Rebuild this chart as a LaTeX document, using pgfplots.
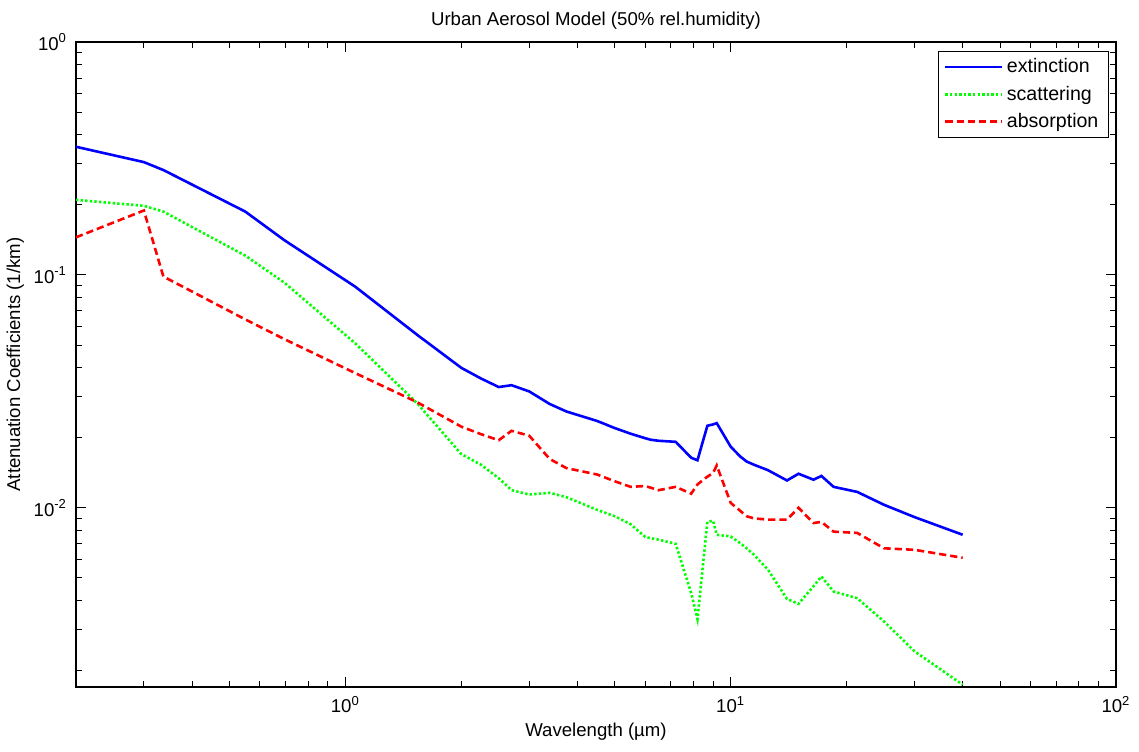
\documentclass[border=0pt]{standalone}
\usepackage{fontspec}
\setmainfont{Liberation Sans}
\usepackage{pgfplots}
\pgfplotsset{compat=1.18}

\definecolor{ext}{RGB}{0,0,255}
\definecolor{sca}{RGB}{0,255,0}
\definecolor{abso}{RGB}{255,0,0}

\begin{document}
\begin{tikzpicture}
\begin{axis}[
    scale only axis,
    width=520pt, height=322.5pt,
    xmode=log, ymode=log,
    log basis x=10, log basis y=10,
    xmin=0.2, xmax=100,
    ymin=0.0017, ymax=1,
    xtick={1,10,100},
    xticklabels={10\textsuperscript{0},10\textsuperscript{1},10\textsuperscript{2}},
    ytick={0.01,0.1,1},
    yticklabels={10\textsuperscript{-2},10\textsuperscript{-1},10\textsuperscript{0}},
    minor xtick={0.2,0.3,0.4,0.5,0.6,0.7,0.8,0.9,2,3,4,5,6,7,8,9,20,30,40,50,60,70,80,90},
    minor ytick={0.002,0.003,0.004,0.005,0.006,0.007,0.008,0.009,0.02,0.03,0.04,0.05,0.06,0.07,0.08,0.09,0.2,0.3,0.4,0.5,0.6,0.7,0.8,0.9},
    tick align=inside,
    major tick length=5pt,
    minor tick length=3pt,
    every tick/.style={black, line width=0.5pt},
    axis line style={line width=0.6pt},
    font=\fontsize{9.3}{11}\selectfont,
    xticklabel style={yshift=-1pt},
    yticklabel style={xshift=-1pt},
    title={Urban Aerosol Model (50\% rel.humidity)},
    title style={yshift=-3pt},
    xlabel={Wavelength (µm)},
    ylabel={Attenuation Coefficients (1/km)},
    xlabel style={yshift=2pt},
    ylabel style={yshift=-2pt},
    legend style={at={(rel axis cs:1,1)}, anchor=north east, xshift=-3.5pt, yshift=-4.5pt,
        draw=black, line width=0.6pt, inner xsep=3pt, inner ysep=1.5pt, row sep=1pt,
        font=\fontsize{9.8}{11}\selectfont, cells={anchor=west}},
    legend image post style={line width=1.2pt},
    legend image code/.code={\draw plot coordinates {(0cm,0cm) (0.99cm,0cm)};},
]
\addplot[ext, line width=1.3pt] coordinates {
(0.2,0.355) (0.3,0.305) (0.3371,0.282) (0.55,0.187) (0.6943,0.141) (1.06,0.0891)
(1.536,0.0553) (2.0,0.0399) (2.25,0.0359) (2.5,0.0330) (2.7,0.0336) (3.0,0.0316)
(3.3923,0.0279) (3.75,0.0259) (4.5,0.0236) (5.0,0.0220) (5.5,0.0208) (6.0,0.0199)
(6.2,0.0196) (6.5,0.0194) (7.2,0.0192) (7.9,0.0164) (8.2,0.0160) (8.7,0.0225)
(9.0,0.0228) (9.2,0.0231) (10.0,0.0183) (10.591,0.0166) (11.0,0.0158) (11.5,0.0153)
(12.5,0.0145) (14.0,0.0131) (15.0,0.0140) (16.4,0.0132) (17.2,0.0137) (18.5,0.0123)
(21.3,0.0117) (25.0,0.0103) (30.0,0.00912) (40.0,0.00766)
};
\addlegendentry{extinction}
\addplot[sca, line width=1.3pt, dash pattern=on 1.2pt off 1.1pt] coordinates {
(0.2,0.210) (0.3,0.198) (0.3371,0.187) (0.55,0.121) (0.6943,0.0927) (1.06,0.0509)
(1.536,0.0281) (2.0,0.0170) (2.25,0.0153) (2.5,0.0134) (2.7,0.0119) (3.0,0.0114)
(3.3923,0.0116) (3.75,0.0111) (4.5,0.0098) (5.0,0.0092) (5.5,0.0085) (6.0,0.0075)
(6.2,0.0074) (6.5,0.0073) (7.2,0.0070) (7.9,0.0043) (8.2,0.00333) (8.7,0.0087)
(9.0,0.0088) (9.2,0.00766) (10.0,0.00753) (10.591,0.00705) (11.0,0.0067) (11.5,0.00628)
(12.5,0.00542) (14.0,0.00406) (15.0,0.00387) (16.4,0.00460) (17.2,0.00507) (18.5,0.00437)
(21.3,0.00409) (25.0,0.00325) (30.0,0.00242) (40.0,0.00174)
};
\addlegendentry{scattering}
\addplot[abso, line width=1.3pt, dash pattern=on 3.6pt off 2pt] coordinates {
(0.2,0.145) (0.3,0.189) (0.3371,0.0984) (0.55,0.0644) (0.6943,0.053) (1.06,0.0379)
(1.536,0.0284) (2.0,0.0223) (2.25,0.0207) (2.5,0.0195) (2.7,0.0214) (3.0,0.0204)
(3.3923,0.0162) (3.75,0.0148) (4.5,0.0139) (5.0,0.0130) (5.5,0.0123) (6.0,0.0124)
(6.2,0.0122) (6.5,0.0119) (7.2,0.0123) (7.9,0.0115) (8.2,0.0126) (8.7,0.0136)
(9.0,0.0141) (9.2,0.0152) (10.0,0.0105) (10.591,0.0097) (11.0,0.0092) (11.5,0.0090)
(12.5,0.0089) (14.0,0.0089) (15.0,0.0100) (16.4,0.0086) (17.2,0.0087) (18.5,0.0079)
(21.3,0.0078) (25.0,0.0067) (30.0,0.0066) (40.0,0.0061)
};
\addlegendentry{absorption}
\end{axis}
\pgfresetboundingbox
\path[use as bounding box] (-38pt,-32pt) rectangle (531.5pt,343.5pt);
\end{tikzpicture}
\end{document}
